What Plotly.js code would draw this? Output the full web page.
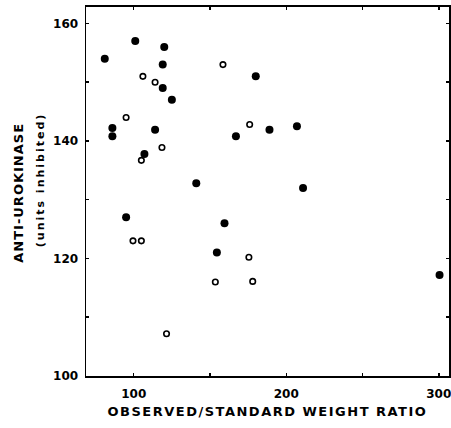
<!DOCTYPE html>
<html>
<head>
<meta charset="utf-8">
<script src="https://cdn.plot.ly/plotly-3.0.1.min.js"></script>
<style>body{margin:0;background:#fff}#chart{width:451px;height:428px}</style>
</head>
<body>
<div id="chart"></div>
<script>
// Filled circles
var filledX = [81, 101, 120, 119, 119, 125, 180, 86, 86, 114, 189, 207, 167, 107, 141, 211, 95, 159.5, 154.5, 300.5];
var filledY = [154, 157, 156, 153, 149, 147, 151, 142.2, 140.8, 141.9, 141.9, 142.5, 140.8, 137.8, 132.8, 132, 127, 126, 121, 117.2];
// Open circles
var openX = [106, 114, 158.5, 95, 176, 118.5, 105, 99.5, 105, 175.5, 153.5, 178, 121.5];
var openY = [151, 150, 153, 144, 142.8, 138.9, 136.7, 123, 123, 120.2, 116, 116.1, 107.2];
// Ticks
var xTickVals = [100, 150, 200, 250, 300];
var xTickText = ['100', '', '200', '', '300'];
var yTickVals = [100, 110, 120, 130, 140, 150, 160];
var yTickText = ['100', '', '120', '', '140', '', '160'];

var FONT = 'DejaVu Sans';

var traces = [
  {x: filledX, y: filledY, type: 'scatter', mode: 'markers', name: 'filled',
   marker: {size: 8, color: '#000', line: {width: 0}}},
  {x: openX, y: openY, type: 'scatter', mode: 'markers', name: 'open',
   marker: {size: 5.5, color: '#fff', line: {width: 1.6, color: '#000'}}}
];

var axisCommon = {
  showgrid: false, zeroline: false, showline: true, linecolor: '#000',
  mirror: 'ticks', ticks: 'inside', ticklen: 3, tickwidth: 1.5, tickcolor: '#000',
  tickfont: {family: FONT, size: 12, color: '#000', weight: 'bold'},
  ticklabeloverflow: 'allow'
};

var layout = {
  width: 451, height: 428,
  margin: {l: 86, r: 2, t: 7, b: 52},
  paper_bgcolor: '#fff', plot_bgcolor: '#fff',
  showlegend: false,
  xaxis: Object.assign({}, axisCommon, {
    range: [68.7, 306.7], tickmode: 'array', tickvals: xTickVals, ticktext: xTickText,
    linewidth: 2, ticklabelstandoff: 6
  }),
  yaxis: Object.assign({}, axisCommon, {
    range: [100, 162.8], tickmode: 'array', tickvals: yTickVals, ticktext: yTickText,
    linewidth: 1.5, ticklabelstandoff: 4
  }),
  annotations: [
    {text: 'OBSERVED/STANDARD WEIGHT RATIO', xref: 'paper', yref: 'paper',
     x: 0.5, y: -0.097, xanchor: 'center', yanchor: 'middle', showarrow: false,
     font: {family: FONT, size: 13, color: '#000', weight: 'bold'}},
    {text: 'ANTI-UROKINASE', xref: 'paper', yref: 'paper', textangle: -90,
     x: -0.187, y: 0.497, xanchor: 'center', yanchor: 'middle', showarrow: false,
     font: {family: FONT, size: 13, color: '#000', weight: 'bold'}},
    {text: '(units inhibited)', xref: 'paper', yref: 'paper', textangle: -90,
     x: -0.127, y: 0.533, xanchor: 'center', yanchor: 'middle', showarrow: false,
     font: {family: FONT, size: 11, color: '#000', weight: 'bold'}}
  ]
};

Plotly.newPlot('chart', traces, layout, {displayModeBar: false, staticPlot: true}).then(function () {
  var ann = document.querySelectorAll('.annotation-text');
  var spacing = ['1.5px', '1px', '2px'];
  ann.forEach(function (t, i) { t.style.letterSpacing = spacing[i] || '0px'; });
});
</script>
</body>
</html>
